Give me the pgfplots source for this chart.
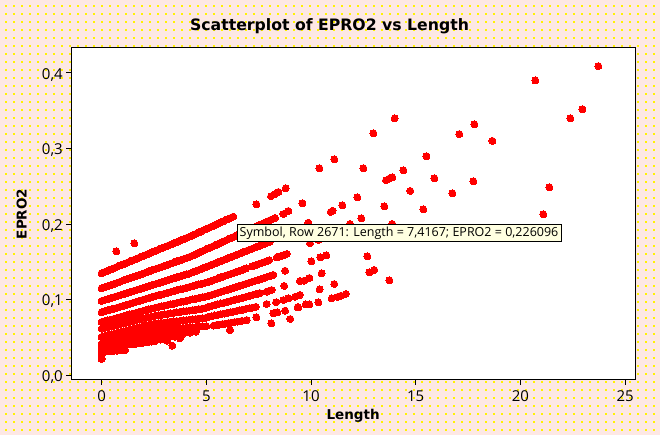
\documentclass[border=0pt]{standalone}
\usepackage{fontspec}
\setmainfont{Open Sans}
\newfontfamily\djb{DejaVu Sans}[BoldFont={DejaVu Sans Bold}]
\usepackage{pgfplots}
\pgfplotsset{compat=1.18}
\definecolor{bgp}{HTML}{FDE8E4}
\definecolor{tip}{HTML}{FFFFE1}
\begin{document}
\begin{tikzpicture}[x=1bp,y=1bp]
\path[use as bounding box,fill=bgp] (0,0) rectangle (660,435);
\foreach \r in {0,...,53}{
  \draw[yellow,line width=2bp,dash pattern=on 2bp off 6bp] (5,{435-6-8*\r}) -- (660,{435-6-8*\r});
}
\begin{axis}[
  at={(71.3bp,55bp)},anchor=south west,
  scale only axis,width=563.7bp,height=332bp,
  xmin=-1.447,xmax=25.47,ymin=-0.0066,ymax=0.433,
  axis background/.style={fill=white},
  axis line style={black,line width=1bp},
  xtick={0,5,10,15,20,25},ytick={0,0.1,0.2,0.3,0.4},
  tick align=outside,tick pos=left,
  major tick length=5bp,
  every tick/.style={black,line width=0.9bp},
  yticklabel style={yshift=-2bp,/pgf/number format/.cd,use comma,fixed,fixed zerofill,precision=1,assume math mode=true},
  xticklabel style={yshift=-2bp,/pgf/number format/assume math mode=true},
  tick label style={font=\fontsize{15bp}{17bp}\selectfont},
  xlabel={\fontsize{13.5bp}{16bp}\selectfont\djb\bfseries Length},
  ylabel={\fontsize{13.5bp}{16bp}\selectfont\djb\bfseries EPRO2},
  xlabel style={at={(axis description cs:0.5,0)},anchor=north,yshift=-26bp},
  ylabel style={at={(axis description cs:0,0.5)},anchor=south,yshift=41bp},
]
\addplot[only marks,mark=*,mark size=3.5bp,color=red,mark options={draw=red,fill=red,line width=0pt}] coordinates {
(0,.1347)(.3,.1382)(.6,.1416)(.9,.1451)(1.2,.1485)(1.5,.1520)(1.8,.1555)(2.1,.1589)(2.4,.1624)(2.7,.1659)(3,.1693)(3.3,.1728)(3.6,.1762)(3.9,.1797)(4.2,.1832)(4.5,.1869)(4.8,.1908)(5.1,.1946)(5.4,.1984)(5.7,.2022)(6,.2060)(6.29,.2097)
(.15,.1365)(.45,.1399)(.75,.1434)(1.05,.1468)(1.35,.1503)(1.65,.1537)(1.95,.1572)(2.25,.1607)(2.55,.1641)(2.85,.1676)(3.15,.171)(3.45,.1745)(3.75,.178)(4.05,.1815)(4.35,.185)(4.65,.1888)(4.95,.1927)(5.25,.1965)(5.55,.2003)(5.85,.2041)(6.15,.2078)
(7.39,.2261)(8.09,.2367)(8.28,.2397)(8.44,.2424)(8.79,.2473)
(0,.1148)(.3,.1178)(.6,.1207)(.9,.1237)(1.2,.1267)(1.5,.1297)(1.8,.1326)(2.1,.1356)(2.4,.1386)(2.7,.1415)(3,.1445)(3.3,.1475)(3.6,.1504)(3.9,.1534)(4.2,.1564)(4.5,.1601)(4.8,.1639)(5.1,.1677)(5.4,.1715)(5.7,.1753)(6,.1791)(6.3,.1829)(6.6,.1867)(6.9,.1905)(7.2,.1943)(7.5,.1981)(7.8,.2019)(8.1,.2057)(8.28,.208)(8.68,.2132)(8.92,.2172)
(.15,.1163)(.45,.1192)(.75,.1222)(1.05,.1252)(1.35,.1282)(1.65,.1311)(1.95,.1341)(2.25,.1371)(2.55,.14)(2.85,.143)(3.15,.146)(3.45,.149)(3.75,.1519)(4.05,.1549)(4.35,.1582)(4.65,.162)(4.95,.1658)(5.25,.1696)(5.55,.1734)(5.85,.1772)(6.15,.181)(6.45,.1848)(6.75,.1886)(7.05,.1924)(7.35,.1962)(7.65,.2)(7.95,.2038)
(0,.098)(.3,.1006)(.6,.1032)(.9,.1058)(1.2,.1084)(1.5,.111)(1.8,.1136)(2.1,.1162)(2.4,.1188)(2.7,.1214)(3,.124)(3.3,.1266)(3.6,.1292)(3.9,.1318)(4.2,.1344)(4.5,.1377)(4.8,.141)(5.1,.1443)(5.4,.1476)(5.7,.1509)(6,.1542)(6.3,.1575)(6.6,.1608)(6.9,.1641)(7.2,.1674)(7.5,.1707)(7.8,.174)(8.04,.1766)
(.15,.0993)(.45,.1019)(.75,.1045)(1.05,.1071)(1.35,.1097)(1.65,.1123)(1.95,.1149)(2.25,.1175)(2.55,.1201)(2.85,.1227)(3.15,.1253)(3.45,.1279)(3.75,.1305)(4.05,.1331)(4.35,.136)(4.65,.1393)(4.95,.1426)(5.25,.146)(5.55,.1492)(5.85,.1525)(6.15,.1558)(6.45,.1592)(6.75,.1625)(7.05,.1658)(7.35,.169)(7.65,.1723)(7.92,.1753)
(0,.083)(.15,.0843)(.3,.0855)(.45,.0868)(.6,.088)(.75,.0893)(.9,.0906)(1.05,.0918)(1.2,.0931)(1.35,.0943)(1.5,.0956)(1.65,.0969)(1.8,.0981)(1.95,.0994)(2.1,.1006)(2.25,.1019)(2.4,.1032)(2.55,.1044)(2.7,.1055)(2.85,.1066)(3,.1077)(3.15,.1088)(3.3,.11)(3.45,.1111)(3.6,.1122)(3.75,.1133)(3.9,.1144)(4.05,.1155)(4.2,.1167)(4.35,.1178)(4.5,.1189)(4.65,.12)(4.8,.1211)(4.95,.1222)
(5.1,.1234)(5.25,.1248)(5.4,.1263)(5.55,.1278)(5.7,.1293)(5.85,.1308)(6,.1323)(6.15,.1337)(6.3,.1352)(6.45,.1367)(6.6,.1382)(6.75,.1396)(6.9,.1411)(7.2,.1441)(7.35,.1455)(7.5,.147)(7.65,.1485)(7.8,.15)(7.9,.151)(8,.152)(8.36,.1556)(8.48,.1568)(8.6,.158)(8.72,.1591)(8.84,.1603)
(0,.0702)(.15,.0713)(.3,.0724)(.45,.0735)(.6,.0746)(.75,.0758)(.9,.0769)(1.05,.078)(1.2,.0791)(1.35,.0802)(1.5,.0813)(1.65,.0824)(1.8,.0835)(1.95,.0846)(2.1,.0857)(2.25,.0869)(2.4,.088)(2.55,.089)(2.7,.0899)(2.85,.0908)(3,.0918)(3.15,.0927)(3.3,.0936)(3.45,.0945)(3.6,.0955)(3.75,.0964)(3.9,.0973)(4.05,.0982)(4.2,.0992)(4.35,.1001)(4.5,.101)(4.65,.102)(4.8,.1029)(4.95,.1038)
(5.1,.1048)(5.25,.1061)(5.4,.1075)(5.55,.1088)(5.7,.1102)(5.85,.1115)(6,.1128)(6.15,.1141)(6.3,.1155)(6.45,.1168)(6.6,.1182)(6.75,.1195)(6.9,.1209)(7.05,.1222)(7.2,.1236)(7.35,.1249)(7.5,.1262)(7.65,.1275)(7.8,.1289)(8,.1307)(8.2,.1325)
(0,.0613)(.15,.0623)(.3,.0633)(.45,.0643)(.6,.0654)(.75,.0664)(.9,.0674)(1.05,.0684)(1.2,.0694)(1.35,.0704)(1.5,.0714)(1.65,.0725)(1.8,.0735)(1.95,.0745)(2.1,.0755)(2.25,.0765)(2.4,.0775)(2.55,.0784)(2.7,.079)(2.85,.0797)(3,.0803)(3.15,.0809)(3.3,.0816)(3.45,.0822)(3.6,.0828)(3.75,.0834)(3.9,.0841)(4.05,.0847)(4.2,.0853)(4.35,.086)(4.5,.0866)(4.65,.0872)(4.8,.0879)(4.95,.0885)
(5.1,.0902)(5.25,.0913)(5.4,.0925)(5.55,.0936)(5.7,.0947)(5.85,.0958)(6,.0969)(6.15,.098)(6.3,.0991)(6.45,.1002)(6.6,.1013)(6.75,.1024)(6.9,.1036)(7.05,.1047)(7.2,.1058)(7.33,.1068)(7.45,.1077)(7.56,.1085)(7.88,.1103)(8,.1115)(8.12,.1126)
(0,.0505)(.15,.0516)(.3,.0526)(.45,.0537)(.6,.0547)(.75,.0558)(.9,.0568)(1.05,.0579)(1.2,.0589)(1.35,.06)(1.5,.061)(1.65,.0621)(1.8,.0631)(1.95,.0642)(2.1,.0652)(2.25,.0663)(2.4,.0673)(2.55,.0682)(2.7,.0686)(2.85,.0691)(3,.0695)(3.15,.07)(3.3,.0705)(3.45,.0709)(3.6,.0714)(3.75,.0718)(3.9,.0723)(4.05,.0727)(4.2,.0732)(4.35,.0737)(4.5,.0741)(4.65,.0746)(4.8,.075)(4.95,.0755)
(5.1,.077)(5.25,.0779)(5.4,.0788)(5.55,.0796)(5.7,.0805)(5.85,.0814)(6,.0823)(6.15,.0831)(6.3,.084)(6.45,.0849)(6.6,.0858)(6.75,.0867)(6.9,.0876)(7.05,.0884)(7.2,.0893)(7.36,.0903)
(0,.0415)(.15,.0426)(.3,.0436)(.45,.0447)(.6,.0457)(.75,.0468)(.9,.0478)(1.05,.0489)(1.2,.0499)(1.35,.051)(1.5,.052)(1.65,.0531)(1.8,.0541)(1.95,.0552)(2.1,.0562)(2.25,.0573)(2.4,.0583)(2.55,.0591)(2.7,.0595)(2.85,.0598)(3,.0602)(3.15,.0605)(3.3,.0609)(3.45,.0613)(3.6,.0616)(3.75,.062)(3.9,.0623)(4.05,.0627)(4.2,.063)(4.35,.0633)(4.5,.0636)(4.65,.064)(4.8,.0643)(5,.0647)
(5.35,.0655)(5.47,.0661)(5.6,.0667)(5.75,.0673)(5.9,.068)(6.05,.0687)(6.2,.0695)(6.35,.0701)(6.5,.0708)(6.7,.0718)(6.93,.0728)
(0,.0385)(.3,.0402)(.6,.0418)(.9,.0435)(1.2,.0451)(1.5,.0468)(1.8,.0484)(2.1,.0501)(2.4,.0517)(2.7,.0534)(3,.055)(3.3,.056)(3.6,.0545)
(.15,.0394)(.45,.041)(.75,.0427)(1.05,.0443)(1.35,.0459)(1.65,.0476)(1.95,.0493)(2.25,.0509)(2.55,.0525)(2.85,.0542)(3.15,.0555)
(3.3,.0515)(3.6,.053)(3.9,.0545)(4.2,.056)(4.5,.0572)(2.8,.047)(2.95,.0475)
(0,.0355)(.3,.0366)(.6,.0377)(.9,.0388)(1.2,.0399)(1.5,.041)(1.8,.0421)(2.1,.0432)(2.4,.0443)(2.55,.0448)
(.15,.036)(.45,.0371)(.75,.0382)(1.05,.0393)(1.35,.0404)(1.65,.0415)(1.95,.0426)(2.25,.0437)
(0,.031)(.15,.0312)(.3,.0315)(.45,.0317)(.6,.032)(.75,.0322)(.9,.0325)(1,.0327)(1.12,.033)(0,.026)(0,.0212)
(3,.05)(3.14,.0454)(3.38,.0388)(3.5,.0505)(3.74,.0486)
(.7,.1638)(1.56,.1744)
(6.13,.0596)(8.76,.1381)(8.72,.1179)(7.88,.094)(8.33,.0963)(8.68,.0993)(8.92,.1016)(9.24,.1037)(9.47,.106)
(8.76,.0852)(8.39,.083)(8.2,.0817)(7.39,.0764)(8.1,.0684)(9.01,.0742)(9.36,.0897)(9.47,.1245)(9.67,.1249)(9.92,.1285)
(23.72,.409)(20.71,.390)(22.96,.352)(22.38,.340)(17.80,.332)(17.08,.319)(18.66,.310)(15.89,.2605)(16.75,.2406)(17.75,.2566)(21.38,.2486)(21.09,.2129)
(12.98,.320)(13.99,.3397)(15.51,.2897)(11.11,.2857)(10.40,.2738)(12.50,.2738)(14.41,.2711)(13.88,.2618)(13.73,.26)(13.58,.2578)(14.74,.2437)(12.21,.2353)(11.50,.2247)(10.94,.2159)(11.03,.2175)(13.50,.2234)(15.36,.2194)(9.59,.2274)(12.40,.2075)(9.87,.2017)(11.86,.2)(13.88,.2)(9.95,.1744)(10.35,.1788)(10.73,.1585)(10.44,.1558)(10.02,.1505)(12.69,.1572)(13.02,.1391)(12.78,.136)(13.74,.1254)(10.51,.1347)(11.11,.1205)(10.41,.1135)(11.66,.1073)(11.43,.105)(11.26,.1033)(10.99,.1016)(10.35,.0963)(9.92,.0936)(9.75,.0936)(9.39,.0897)
};
\end{axis}
\node[font=\fontsize{15.7bp}{18bp}\selectfont\djb\bfseries] at (329.5,408.5) {Scatterplot of EPRO2 vs Length};
\node[draw=black,fill=tip,line width=0.8bp,inner sep=0pt,minimum width=324bp,minimum height=17bp,font=\fontsize{12.5bp}{14bp}\selectfont] at (399,202) {Symbol, Row 2671: Length = 7,4167; EPRO2 = 0,226096};
\end{tikzpicture}
\end{document}
